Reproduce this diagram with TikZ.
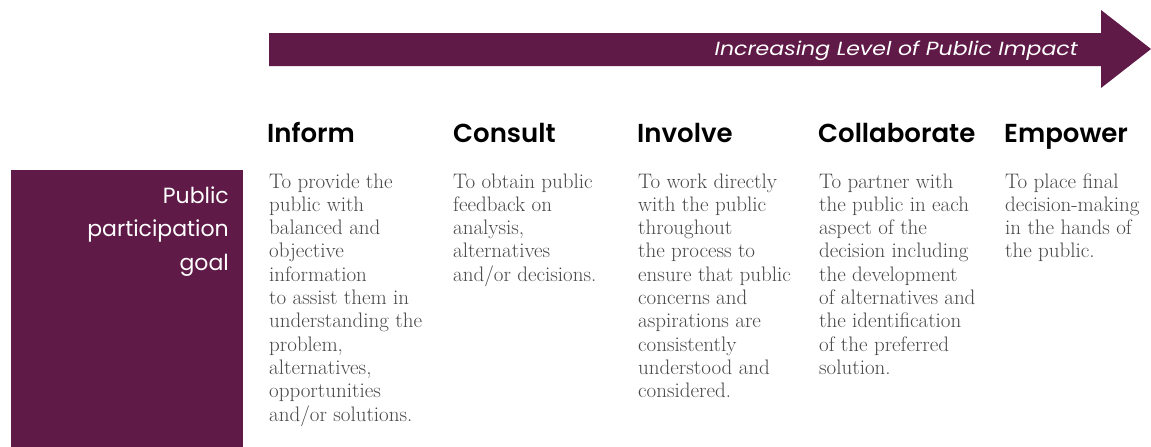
\documentclass[tikz,border=0pt]{standalone}
\usepackage{fontspec}
\newfontfamily\headfont{Poppins}[BoldFont=* SemiBold]
\definecolor{plum}{HTML}{5F1A48}
\definecolor{bodygrey}{HTML}{474747}
\tikzset{
  x=1pt,y=1pt,
  head/.style={anchor=base west,inner sep=0pt,font=\headfont\bfseries\fontsize{26}{30}\selectfont,text=black},
  body/.style={anchor=base west,inner sep=0pt,align=left,text=bodygrey,font=\fontsize{21}{23.3}\selectfont},
}
\begin{document}
\begin{tikzpicture}
\useasboundingbox (0,0) rectangle (1151,-447);
% arrow
\fill[plum] (269,-33) -- (1101,-33) -- (1101,-10) -- (1151,-49) -- (1101,-88) -- (1101,-66) -- (269,-66) -- cycle;
\node[anchor=base east,inner sep=0pt,text=white,font=\headfont\itshape\fontsize{19}{22}\selectfont] (impact) at (1078,-55) {\scalebox{1.16}[1]{Increasing Level of Public Impact}};
% left box
\fill[plum] (11,-170) rectangle (243,-447);
\node[anchor=base east,inner sep=0pt,align=right,text=white,font=\headfont\fontsize{22}{33.5}\selectfont] (goal) at (229,-270) {Public\\participation\\goal};
% headings
\node[head] (h1) at (267,-142) {Inform};
\node[head] (h2) at (453,-142) {Consult};
\node[head] (h3) at (637,-142) {Involve};
\node[head] (h4) at (818,-142) {Collaborate};
\node[head] (h5) at (1004,-142) {Empower};
% bodies (anchored at the baseline of their last line)
\node[body] (b1) at (269,-421) {To provide the\\public with\\balanced and\\objective\\information\\to assist them in\\understanding the\\problem,\\alternatives,\\opportunities\\and/or solutions.};
\node[body] (b2) at (453,-281.2) {To obtain public\\feedback on\\analysis,\\alternatives\\and/or decisions.};
\node[body] (b3) at (638,-397.7) {To work directly\\with the public\\throughout\\the process to\\ensure that public\\concerns and\\aspirations are\\consistently\\understood and\\considered.};
\node[body] (b4) at (819,-374.4) {To partner with\\the public in each\\aspect of the\\decision including\\the development\\of alternatives and\\the identification\\of the preferred\\solution.};
\node[body] (b5) at (1005,-257.9) {To place final\\decision-making\\in the hands of\\the public.};
\end{tikzpicture}
\end{document}
